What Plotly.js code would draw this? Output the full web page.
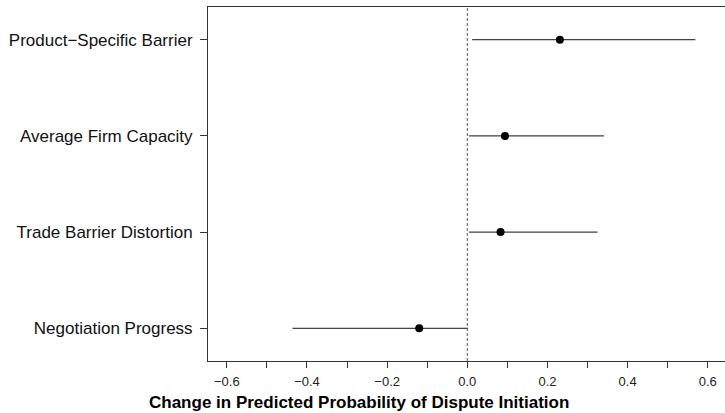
<!DOCTYPE html>
<html>
<head>
<meta charset="utf-8">
<script src="https://cdn.plot.ly/plotly-3.0.1.min.js"></script>
<style>html,body{margin:0;padding:0;background:#fff;}</style>
</head>
<body>
<div id="chart" style="width:725px;height:413px;"></div>
<script>
// Data
var categories = ["Product\u2212Specific Barrier", "Average Firm Capacity", "Trade Barrier Distortion", "Negotiation Progress"];
var catPos = [4, 3, 2, 1];
var estimates = [0.231, 0.094, 0.083, -0.120];
var lowerCI = [0.012, 0.004, 0.004, -0.436];
var upperCI = [0.569, 0.341, 0.325, 0.002];
var xTickVals = [-0.6, -0.5, -0.4, -0.3, -0.2, -0.1, 0.0, 0.1, 0.2, 0.3, 0.4, 0.5, 0.6];
var xTickText = ["\u22120.6", "", "\u22120.4", "", "\u22120.2", "", "0.0", "", "0.2", "", "0.4", "", "0.6"];
var xTitle = "Change in Predicted Probability of Dispute Initiation";

var plus = estimates.map(function(e, i){ return upperCI[i] - e; });
var minus = estimates.map(function(e, i){ return e - lowerCI[i]; });

var trace = {
  type: 'scatter',
  mode: 'markers',
  x: estimates,
  y: catPos,
  marker: {color: '#000', size: 8},
  error_x: {type: 'data', symmetric: false, array: plus, arrayminus: minus, width: 0, thickness: 1, color: '#111'},
  hoverinfo: 'skip',
  showlegend: false
};

var font = {family: '"Liberation Sans", Arial, Helvetica, sans-serif', color: '#111'};

var layout = {
  width: 725, height: 413,
  margin: {l: 208, r: 0, t: 7, b: 52},
  paper_bgcolor: '#fff', plot_bgcolor: '#fff',
  font: font,
  xaxis: {
    range: [-0.647, 0.643],
    tickmode: 'array', tickvals: xTickVals, ticktext: xTickText,
    ticks: 'outside', ticklen: 6, tickwidth: 1, tickcolor: '#333',
    showline: true, linecolor: '#333', linewidth: 1, mirror: true,
    showgrid: false, zeroline: false,
    tickfont: {family: font.family, size: 13, color: '#222'},
    ticklabelstandoff: 2,
    fixedrange: true
  },
  yaxis: {
    range: [0.66, 4.34],
    tickmode: 'array', tickvals: catPos, ticktext: categories,
    ticks: 'outside', ticklen: 7, tickwidth: 1, tickcolor: '#333',
    showline: true, linecolor: '#333', linewidth: 1,
    showgrid: false, zeroline: false,
    tickfont: {family: font.family, size: 17, color: '#111'},
    ticklabelstandoff: 4,
    fixedrange: true
  },
  shapes: [{
    type: 'line', xref: 'x', yref: 'paper', x0: 0, x1: 0, y0: 0, y1: 1,
    line: {color: '#555', width: 1, dash: '3px,2px'}
  }],
  annotations: [{
    text: '<b>' + xTitle + '</b>',
    xref: 'paper', yref: 'paper',
    x: (359 - 208) / 517, y: -0.118,
    xanchor: 'center', yanchor: 'middle',
    showarrow: false,
    font: {family: font.family, size: 17, color: '#000'}
  }]
};

Plotly.newPlot('chart', [trace], layout, {displayModeBar: false, staticPlot: true});
</script>
</body>
</html>
